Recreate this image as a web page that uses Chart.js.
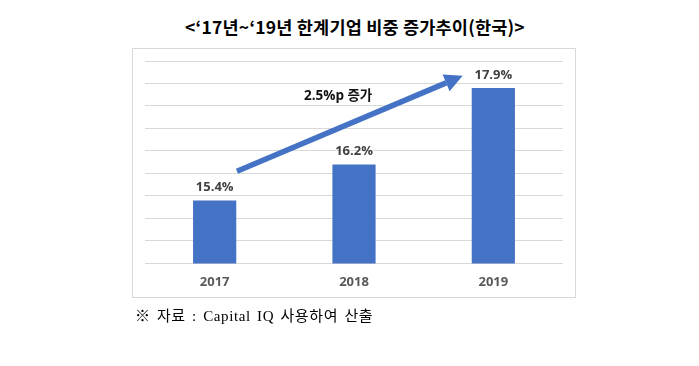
<!DOCTYPE html>
<html>
<head>
<meta charset="utf-8">
<script src="https://cdn.jsdelivr.net/npm/chart.js@4.4.1/dist/chart.umd.min.js"></script>
<style>
  html, body { margin: 0; padding: 0; background: #fff; }
  #wrap { position: relative; width: 699px; height: 366px; overflow: hidden; }
  #title { position: absolute; left: 0; width: 710px; top: 15px; text-align: center;
           font-family: "Noto Sans CJK KR", "Noto Sans", sans-serif; font-weight: 700;
           font-size: 17.5px; line-height: 24px; color: #000; letter-spacing: 0.2px; }
  #box { position: absolute; left: 132px; top: 48px; width: 444px; height: 250px;
         border: 1px solid #d9d9d9; box-sizing: border-box; }
  #note { position: absolute; left: 135px; top: 306px;
          font-family: "Liberation Serif", "Noto Sans CJK KR", serif; font-size: 15px;
          line-height: 20px; color: #000; letter-spacing: 0.6px; word-spacing: 2px; }
  canvas { position: absolute; left: 0; top: 0; }
</style>
</head>
<body>
<div id="wrap">
  <div id="title">&lt;‘17년~‘19년 한계기업 비중 증가추이(한국)&gt;</div>
  <div id="box"></div>
  <canvas id="c" width="699" height="366"></canvas>
  <div id="note">※ 자료 : Capital IQ 사용하여 산출</div>
</div>
<script>
const categories = ['2017', '2018', '2019'];
const shares = [15.4, 16.2, 17.9];
const yMin = 14, yMax = 18.5, yStep = 0.5;
// annotation arrow in data coordinates [category index, value]
const arrowFrom = [0.16, 16.05];
const arrowTo = [1.78, 18.17];
const arrowLabel = '2.5%p 증가';
const arrowLabelPos = [0.886, 17.72];

const barColor = '#4472C4';

const labelsPlugin = {
  id: 'labelsPlugin',
  afterDatasetsDraw(chart) {
    const ctx = chart.ctx;
    const meta = chart.getDatasetMeta(0);
    ctx.save();
    ctx.font = '700 13px "Open Sans", "Noto Sans", sans-serif';
    ctx.fillStyle = '#404040';
    ctx.textAlign = 'center';
    ctx.textBaseline = 'middle';
    meta.data.forEach((bar, i) => {
      ctx.fillText(shares[i].toFixed(1) + '%', bar.x, bar.y - 13);
    });
    // arrow
    const xs = chart.scales.x, ys = chart.scales.y;
    const x1 = xs.getPixelForValue(arrowFrom[0]), y1 = ys.getPixelForValue(arrowFrom[1]);
    const x2 = xs.getPixelForValue(arrowTo[0]), y2 = ys.getPixelForValue(arrowTo[1]);
    const ang = Math.atan2(y2 - y1, x2 - x1);
    const headLen = 18, headW = 9;
    const bx = x2 - headLen * Math.cos(ang), by = y2 - headLen * Math.sin(ang);
    ctx.strokeStyle = barColor;
    ctx.fillStyle = barColor;
    ctx.lineWidth = 5.5;
    ctx.beginPath();
    ctx.moveTo(x1, y1);
    ctx.lineTo(bx, by);
    ctx.stroke();
    ctx.beginPath();
    ctx.moveTo(x2, y2);
    ctx.lineTo(bx + headW * Math.sin(ang), by - headW * Math.cos(ang));
    ctx.lineTo(bx - headW * Math.sin(ang), by + headW * Math.cos(ang));
    ctx.closePath();
    ctx.fill();
    // arrow label
    ctx.font = '700 13.5px "Open Sans", "Noto Sans CJK KR", sans-serif';
    ctx.fillStyle = '#111';
    ctx.fillText(arrowLabel, xs.getPixelForValue(arrowLabelPos[0]), ys.getPixelForValue(arrowLabelPos[1]));
    ctx.restore();
  }
};

new Chart(document.getElementById('c'), {
  type: 'bar',
  data: {
    labels: categories,
    datasets: [{
      data: shares,
      backgroundColor: barColor,
      borderWidth: 0,
      categoryPercentage: 1,
      barPercentage: 0.31
    }]
  },
  options: {
    responsive: false,
    animation: false,
    events: [],
    layout: { padding: { left: 145, right: 136, top: 61, bottom: 73 } },
    plugins: { legend: { display: false }, tooltip: { enabled: false }, title: { display: false } },
    scales: {
      x: {
        grid: { display: false },
        border: { display: false },
        ticks: {
          color: '#595959',
          padding: 3,
          font: { family: '"Open Sans", "Noto Sans", sans-serif', size: 13, weight: '700' }
        }
      },
      y: {
        min: yMin, max: yMax,
        ticks: { display: false, stepSize: yStep },
        grid: { color: '#d9d9d9', lineWidth: 1, drawTicks: false },
        border: { display: false }
      }
    }
  },
  plugins: [labelsPlugin]
});
</script>
</body>
</html>
